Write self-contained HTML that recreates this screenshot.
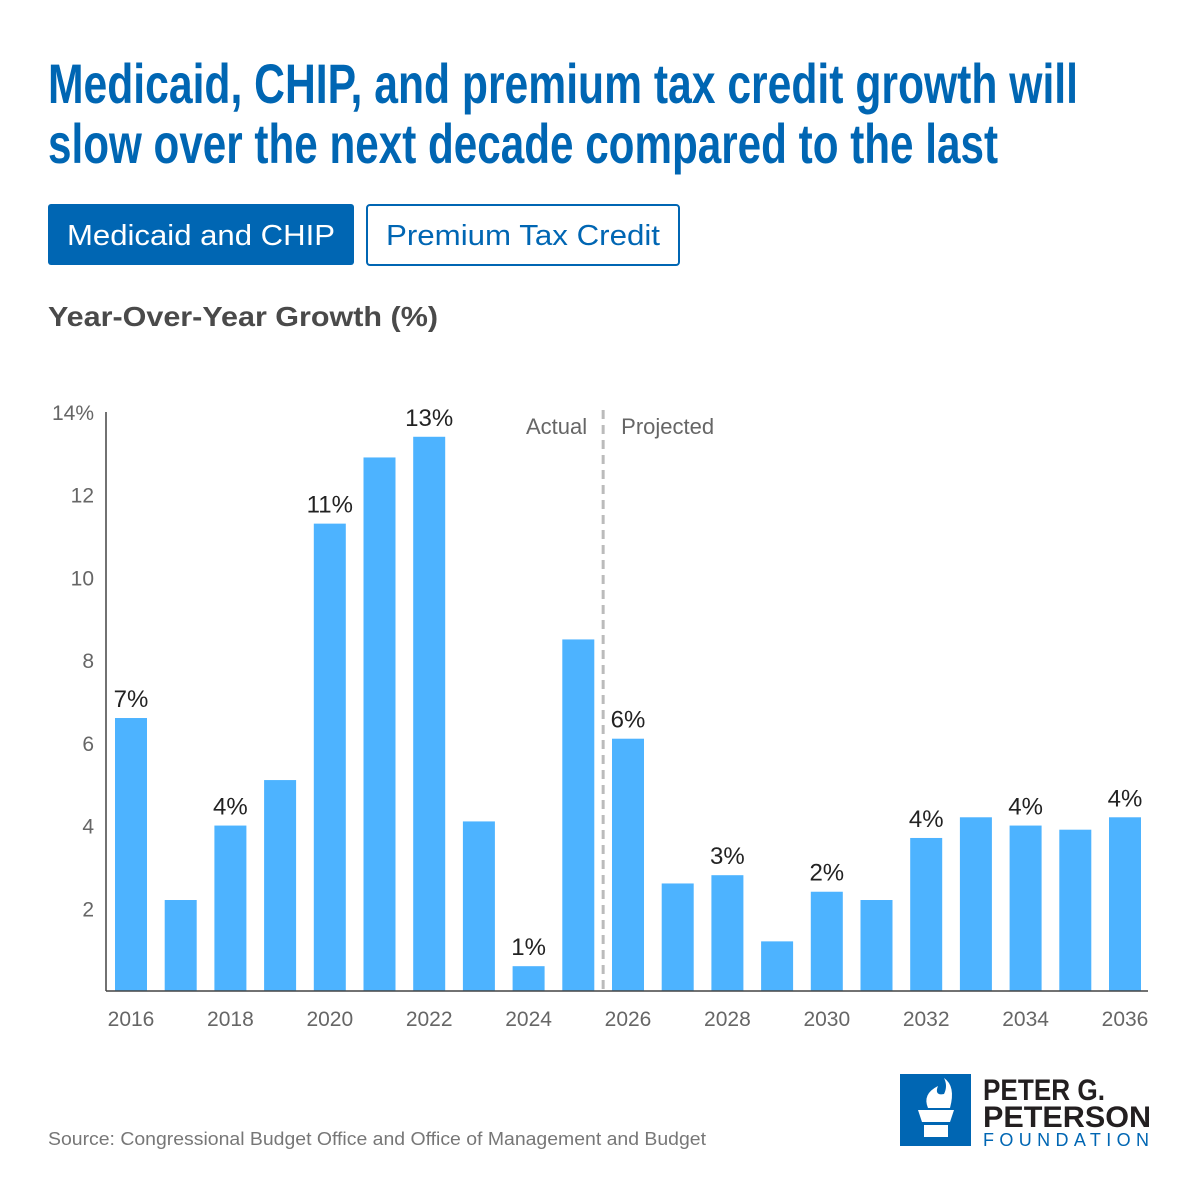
<!DOCTYPE html>
<html><head><meta charset="utf-8"><style>
html,body{margin:0;padding:0;background:#fff;}
svg{display:block;font-family:"Liberation Sans",sans-serif;}
</style></head><body>
<svg id="chart" width="1200" height="1200" viewBox="0 0 1200 1200">
<text x="48" y="103" fill="#0066b3" font-family="Liberation Sans Narrow, Liberation Sans, sans-serif" font-weight="bold" font-size="56" textLength="1030" lengthAdjust="spacingAndGlyphs">Medicaid, CHIP, and premium tax credit growth will</text>
<text x="48" y="163" fill="#0066b3" font-family="Liberation Sans Narrow, Liberation Sans, sans-serif" font-weight="bold" font-size="56" textLength="950" lengthAdjust="spacingAndGlyphs">slow over the next decade compared to the last</text>
<g>
<rect x="48" y="204" width="306" height="61" rx="3" fill="#0066b3"/>
<text x="201" y="245" text-anchor="middle" fill="#fff" font-size="29" textLength="268" lengthAdjust="spacingAndGlyphs">Medicaid and CHIP</text>
</g>
<g>
<rect x="367" y="205" width="312" height="60" rx="3" fill="#fff" stroke="#0066b3" stroke-width="2"/>
<text x="523" y="245" text-anchor="middle" fill="#0066b3" font-size="29" textLength="274" lengthAdjust="spacingAndGlyphs">Premium Tax Credit</text>
</g>
<text x="48" y="326" fill="#4a4a4a" font-weight="bold" font-size="28" textLength="390" lengthAdjust="spacingAndGlyphs">Year-Over-Year Growth (%)</text>
<g id="plot"></g>
<text x="48" y="1145" fill="#777" font-size="18" textLength="658" lengthAdjust="spacingAndGlyphs">Source: Congressional Budget Office and Office of Management and Budget</text>
<g>
<rect x="900" y="1074" width="71" height="72" fill="#0066b3"/>
<path d="M918 1110 h36 l-4 12 h-28 z M924 1125 h24 v12 h-24 z" fill="#fff"/>
<path d="M928 1108 q-6 -14 10 -22 q-4 10 6 8 q4 -8 0 -16 q12 8 6 30 z" fill="#fff"/>
<text x="983" y="1100" fill="#231f20" font-weight="bold" font-family="Liberation Sans Narrow, Liberation Sans, sans-serif" font-size="30" textLength="122" lengthAdjust="spacingAndGlyphs">PETER G.</text>
<text x="983" y="1127" fill="#231f20" font-weight="bold" font-family="Liberation Sans Narrow, Liberation Sans, sans-serif" font-size="30" textLength="168" lengthAdjust="spacingAndGlyphs">PETERSON</text>
<text x="983" y="1146" fill="#0066b3" font-size="18" textLength="166" lengthAdjust="spacing">FOUNDATION</text>
</g>
</svg>
<script>
const years = [2016,2017,2018,2019,2020,2021,2022,2023,2024,2025,2026,2027,2028,2029,2030,2031,2032,2033,2034,2035,2036];
const values = [6.6,2.2,4.0,5.1,11.3,12.9,13.4,4.1,0.6,8.5,6.1,2.6,2.8,1.2,2.4,2.2,3.7,4.2,4.0,3.9,4.2];
const yTicks = [2,4,6,8,10,12,14];
const yTickLabels = ["2","4","6","8","10","12","14%"];
const labeledYears = [2016,2018,2020,2022,2024,2026,2028,2030,2032,2034,2036];
const splitYear = 2025.5;

const NS="http://www.w3.org/2000/svg";
const g=document.getElementById('plot');
const y0=991, pxPerUnit=41.36, x0=131, step=49.7, bw=32;
const yScale=v=>y0-v*pxPerUnit;
const xScale=yr=>x0+(yr-years[0])*step;
function mk(tag,attrs,parent){const e=document.createElementNS(NS,tag);for(const k in attrs)e.setAttribute(k,attrs[k]);(parent||g).appendChild(e);return e;}

yTicks.forEach((t,i)=>{
  const e=mk('text',{x:94,y:yScale(t)+8,'text-anchor':'end',fill:'#666','font-size':21});
  e.textContent=yTickLabels[i];
  
  
});
values.forEach((v,i)=>{
  const yr=years[i];
  const r=mk('rect',{x:xScale(yr)-bw/2,y:yScale(v),width:bw,height:v*pxPerUnit,fill:'#4db3ff'});
  
  
  if(labeledYears.includes(yr)){
    const l=mk('text',{x:xScale(yr),y:yScale(v)-11,'text-anchor':'middle',fill:'#222','font-size':24});
    l.textContent=Math.round(v)+'%';
    
    
    const xl=mk('text',{x:xScale(yr),y:1026,'text-anchor':'middle',fill:'#666','font-size':21});
    xl.textContent=yr;
    
    
  }
});
const ya=mk('line',{x1:106,y1:412,x2:106,y2:y0,stroke:'#444','stroke-width':1.5});


const xa=mk('line',{x1:106,y1:y0,x2:1148,y2:y0,stroke:'#444','stroke-width':1.5});


const sx=xScale(splitYear);
const dl=mk('line',{x1:sx,y1:410,x2:sx,y2:y0,stroke:'#bbb','stroke-width':3,'stroke-dasharray':'9,6'});


const a=mk('text',{x:sx-16,y:434,'text-anchor':'end',fill:'#666','font-size':22});
a.textContent='Actual';


const p=mk('text',{x:sx+18,y:434,fill:'#666','font-size':22});
p.textContent='Projected';


</script>
</body></html>
